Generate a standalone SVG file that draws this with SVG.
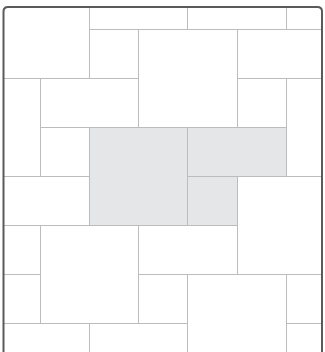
<svg xmlns="http://www.w3.org/2000/svg" width="325" height="352" viewBox="0 0 325 352">
<style>
.g{stroke:#bcbcbc;stroke-width:1;fill:none}
.s{fill:#e5e6e8;stroke:none}
</style>
<rect x="0" y="0" width="325" height="352" fill="#fff"/>
<g id="shaded">
<rect class="s" x="89.5" y="127.5" width="98" height="98"/>
<rect class="s" x="187.5" y="127.5" width="99" height="49"/>
<rect class="s" x="187.5" y="176.5" width="50" height="49"/>
</g>
<g id="grid" class="g">
<path d="M89.5,7V78.5 M187.5,7V29.5 M286.5,7V29.5"/>
<path d="M89.5,29.5H322"/>
<path d="M138.5,29.5V127.5 M237.5,29.5V127.5"/>
<path d="M3,78.5H138.5 M237.5,78.5H322"/>
<path d="M286.5,78.5V176.5 M40.5,78.5V176.5"/>
<path d="M40.5,127.5H286.5"/>
<path d="M89.5,127.5V225.5 M187.5,127.5V225.5"/>
<path d="M3,176.5H89.5 M187.5,176.5H322"/>
<path d="M237.5,176.5V274.5"/>
<path d="M3,225.5H237.5"/>
<path d="M40.5,225.5V323.5 M138.5,225.5V323.5"/>
<path d="M3,274.5H40.5 M138.5,274.5H322"/>
<path d="M187.5,274.5V352 M286.5,274.5V352"/>
<path d="M3,323.5H187.5 M286.5,323.5H322"/>
<path d="M89.5,323.5V352"/>
</g>
<path id="frame" d="M3.5,352V11.5Q3.5,7 8,7H317.5Q322,7 322,11.5V352" fill="none" stroke="#5a5a5a" stroke-width="2"/>
</svg>
